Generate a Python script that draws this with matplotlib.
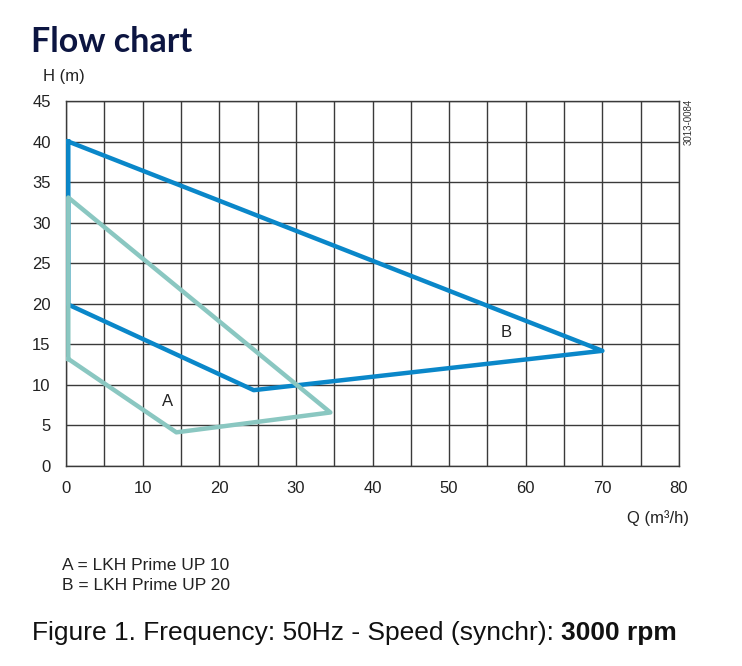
import numpy as np
import matplotlib.pyplot as plt

# curve outlines (Q in m3/h, H in m)
q_a = [0.3, 0.3, 34.5, 14.4, 0.3]
h_a = [13.2, 33.1, 6.6, 4.15, 13.2]
q_b = [0.3, 70.0, 24.5, 0.3, 0.3]
h_b = [40.0, 14.2, 9.35, 19.9, 40.0]

x_ticks = np.arange(0, 81, 10)
y_ticks = np.arange(0, 46, 5)
legend_lines = ["A = LKH Prime UP 10", "B = LKH Prime UP 20"]

blue = "#0a87c9"
teal = "#8ac7c1"
grid_c = "#3a3a3a"

plt.rcParams['font.family'] = ['Liberation Sans', 'DejaVu Sans']

fig = plt.figure(figsize=(7.42, 6.66), dpi=100)
ax = fig.add_axes([66/742, 1-466/666, (679-66)/742, (466-101)/666])

ax.plot(q_b, h_b, color=blue, lw=3.2, solid_joinstyle='round', zorder=3)
ax.plot(q_a, h_a, color=teal, lw=3.2, solid_joinstyle='round', zorder=4)

ax.text(13.2, 7.9, "A", fontsize=12, ha='center', va='center', color='#222222')
ax.text(57.4, 16.5, "B", fontsize=12, ha='center', va='center', color='#222222')

ax.set_xlim(0, 80)
ax.set_ylim(0, 45)
ax.set_xticks(x_ticks)
ax.set_yticks(y_ticks)
ax.set_xticks(np.arange(5, 80, 10), minor=True)
ax.grid(which='both', color=grid_c, lw=1)
ax.set_axisbelow(True)
ax.tick_params(which='both', length=0, labelsize=12, colors='#222222', pad=11)
ax.tick_params(axis='y', pad=11)
for s in ax.spines.values():
    s.set_color(grid_c)
    s.set_linewidth(1)

fig.text(31/742, 1-42/666, "Flow chart", fontsize=24.5, fontweight='bold',
         color='#0c1541', family=['Lato', 'DejaVu Sans'], va='center')
fig.text(43/742, 1-76/666, "H (m)", fontsize=12, color='#222222', va='center')
fig.text(689/742, 1-518/666, "Q (m³/h)", fontsize=12, color='#222222',
         va='center', ha='right')
fig.text(689/742, 1-122/666, "3013-0084", fontsize=7, color='#333333',
         rotation=90, va='center', ha='center')

for i, line in enumerate(legend_lines):
    fig.text(62/742, 1-(566+20*i)/666, line, fontsize=12.5, color='#222222',
             va='center')

cap = fig.text(32/742, 1-633/666, "Figure 1. Frequency: 50Hz - Speed (synchr): ",
               fontsize=19, color='#111111', va='center')
r = fig.canvas.get_renderer()
bb = cap.get_window_extent(r)
fig.text(bb.x1/742, 1-633/666, "3000 rpm", fontsize=19, fontweight='bold',
         color='#111111', va='center')

fig.savefig("out.png", dpi=100)
